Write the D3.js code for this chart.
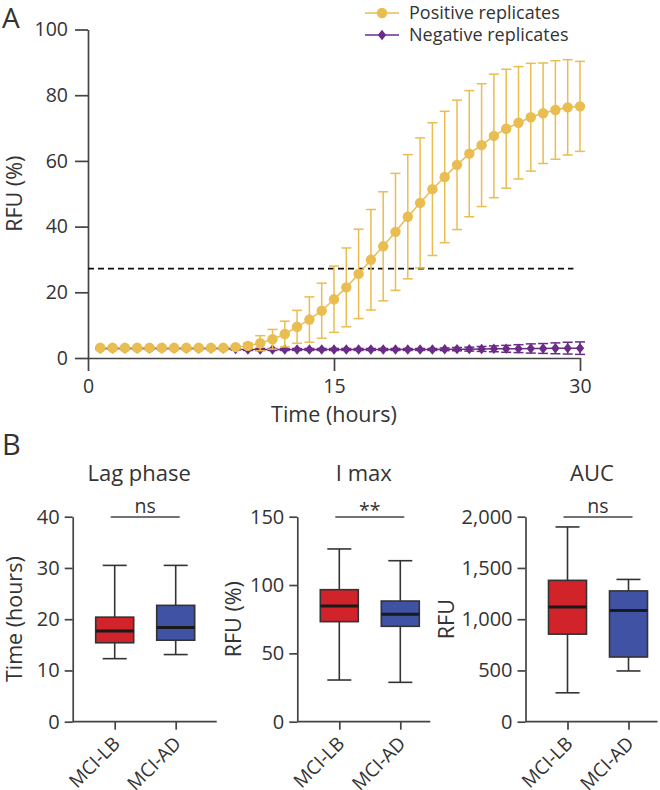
<!DOCTYPE html>
<html><head><meta charset="utf-8">
<script src="https://cdn.jsdelivr.net/npm/d3@7"></script>
<style>
body{margin:0;background:#fff}
svg{display:block}
text{font-family:"Open Sans",sans-serif;fill:#333}
</style>
</head><body>
<svg id="c" width="660" height="790"></svg>
<script>
// ---------- Panel A data ----------
const times = [0.75,1.5,2.25,3,3.75,4.5,5.25,6,6.75,7.5,8.25,9,9.75,10.5,11.25,12,12.75,13.5,14.25,15,
  15.75,16.5,17.25,18,18.75,19.5,20.25,21,21.75,22.5,23.25,24,24.75,25.5,26.25,27,27.75,28.5,29.25,30];
const posMean = [3.1,3.1,3.1,3.1,3.1,3.1,3.1,3.1,3.1,3.1,3.1,3.3,3.7,4.5,5.7,7.3,9.5,11.7,14.4,17.9,
  21.5,25.6,29.9,34.0,38.4,43.0,47.2,51.4,55.1,58.8,62.2,64.8,67.6,69.8,71.6,73.3,74.5,75.5,76.3,76.6];
const posSD = [0.3,0.3,0.3,0.3,0.3,0.3,0.3,0.3,0.3,0.3,0.3,0.5,0.8,2.3,3.0,3.9,5.0,6.9,8.4,10.1,
  12.0,13.6,15.3,16.6,17.8,18.9,19.8,20.2,20.0,19.7,19.2,18.7,18.8,18.1,17.1,16.4,15.3,15.0,14.5,13.7];
const negMean = [2.9,2.9,2.9,2.9,2.9,2.9,2.9,2.9,2.9,2.9,2.9,2.7,2.6,2.6,2.6,2.6,2.6,2.6,2.6,2.6,
  2.6,2.6,2.6,2.6,2.6,2.6,2.6,2.6,2.65,2.7,2.7,2.75,2.8,2.8,2.85,2.9,2.9,2.95,3.0,3.0];
const negSD = [0.3,0.3,0.3,0.3,0.3,0.3,0.3,0.3,0.3,0.3,0.3,0.3,0.3,0.3,0.3,0.3,0.3,0.3,0.3,0.3,
  0.3,0.3,0.3,0.3,0.3,0.3,0.3,0.3,0.4,0.5,0.6,0.75,0.9,1.05,1.2,1.4,1.5,1.65,1.8,1.9];
const threshold = 27.2;
const thresholdSpan = [0, 29.6];
const xTicksA = [0,15,30];
const yTicksA = [0,20,40,60,80,100];
const seriesNames = ["Positive replicates","Negative replicates"];

// ---------- Panel B data ----------
const groups = ["MCI-LB","MCI-AD"];
// [whisker low, Q1, median, Q3, whisker high]
const lagStats  = [[12.3,15.4,17.7,20.4,30.5],[13.1,15.9,18.4,22.7,30.5]];
const imaxStats = [[30.5,73.2,84.7,96.6,126.4],[28.8,69.8,78.6,88.3,117.8]];
const aucStats  = [[282,854,1120,1379,1900],[495,631,1084,1276,1388]];
const lagTicks  = [0,10,20,30,40];
const imaxTicks = [0,50,100,150];
const aucTicks  = [0,500,1000,1500,2000];
const titlesB = ["Lag phase","I max","AUC"];
const yLabelsB = ["Time (hours)","RFU (%)","RFU"];
const sigB = ["ns","**","ns"];

// ---------- styles ----------
const YELLOW = "#E9BD50", PURPLE = "#6B2C88", AXIS = "#444";
const RED = "#D0232A", BLUE = "#3F52A3";

const svg = d3.select("#c");

function styleAxis(g, fs){
  g.selectAll(".domain").attr("stroke", AXIS).attr("stroke-width", 1.7);
  g.selectAll(".tick line").attr("stroke", AXIS).attr("stroke-width", 1.7);
  g.selectAll(".tick text").attr("fill", "#333").style("font-family", '"Open Sans",sans-serif').style("font-size", fs + "px");
}

// ================= Panel A =================
const xA = d3.scaleLinear().domain([0,30]).range([88,580]);
const yA = d3.scaleLinear().domain([0,100]).range([358,29.5]);

svg.append("text").text("A").attr("x", 2).attr("y", 28).style("font-size","28px");

svg.append("g").attr("transform","translate(0,358)")
  .call(d3.axisBottom(xA).tickValues(xTicksA).tickSize(13).tickSizeOuter(0).tickPadding(8))
  .call(g => styleAxis(g, 19.5));
svg.append("g").attr("transform","translate(88,0)")
  .call(d3.axisLeft(yA).tickValues(yTicksA).tickSize(13).tickSizeOuter(0).tickPadding(7))
  .call(g => styleAxis(g, 19.5));

svg.append("text").text("Time (hours)").attr("x", 334).attr("y", 422)
  .attr("text-anchor","middle").style("font-size","21.5px");
svg.append("text").text("RFU (%)")
  .attr("transform", `translate(22,${(yA(0)+yA(100))/2}) rotate(-90)`)
  .attr("text-anchor","middle").style("font-size","21.5px");

// threshold
svg.append("line")
  .attr("x1", xA(thresholdSpan[0])).attr("x2", xA(thresholdSpan[1]))
  .attr("y1", yA(threshold)).attr("y2", yA(threshold))
  .attr("stroke","#111").attr("stroke-width",1.6).attr("stroke-dasharray","6,4");

const posData = times.map((t,i)=>({t, m:posMean[i], s:posSD[i]}));
const negData = times.map((t,i)=>({t, m:negMean[i], s:negSD[i]}));

function errorBars(data, color, capW){
  const g = svg.append("g").attr("stroke", color).attr("stroke-width", 1.5).attr("fill","none");
  data.forEach(d=>{
    const x = xA(d.t), y1 = yA(d.m + d.s), y2 = yA(d.m - d.s);
    g.append("line").attr("x1",x).attr("x2",x).attr("y1",y1).attr("y2",y2);
    g.append("line").attr("x1",x-capW/2).attr("x2",x+capW/2).attr("y1",y1).attr("y2",y1);
    g.append("line").attr("x1",x-capW/2).attr("x2",x+capW/2).attr("y1",y2).attr("y2",y2);
  });
}
const lineGen = d3.line().x(d=>xA(d.t)).y(d=>yA(d.m));
function diamond(cx, cy, hw, hh){ return `M${cx},${cy-hh}L${cx+hw},${cy}L${cx},${cy+hh}L${cx-hw},${cy}Z`; }

// negative
errorBars(negData, PURPLE, 10);
svg.append("path").datum(negData).attr("d", lineGen).attr("fill","none").attr("stroke",PURPLE).attr("stroke-width",1.5);
svg.append("g").selectAll("path").data(negData).join("path")
  .attr("d", d=>diamond(xA(d.t), yA(d.m), 4.2, 5.2)).attr("fill", PURPLE);

// positive
errorBars(posData, YELLOW, 10);
svg.append("path").datum(posData).attr("d", lineGen).attr("fill","none").attr("stroke",YELLOW).attr("stroke-width",1.5);
svg.append("g").selectAll("circle").data(posData).join("circle")
  .attr("cx", d=>xA(d.t)).attr("cy", d=>yA(d.m)).attr("r", 5.2).attr("fill", YELLOW);

// legend
const leg = svg.append("g");
[[YELLOW,13,18.5],[PURPLE,35,40.5]].forEach(([c,ly,tb],i)=>{
  leg.append("line").attr("x1",365).attr("x2",399).attr("y1",ly).attr("y2",ly).attr("stroke",c).attr("stroke-width",1.5);
  if(i===0) leg.append("circle").attr("cx",382).attr("cy",ly).attr("r",5.2).attr("fill",c);
  else leg.append("path").attr("d", diamond(382, ly, 4.2, 5.2)).attr("fill", c);
  leg.append("text").text(seriesNames[i]).attr("x",409).attr("y",tb).style("font-size","18px");
});

// ================= Panel B =================
svg.append("text").text("B").attr("x", 2).attr("y", 455).style("font-size","29px");

const panels = [
  {stats: lagStats,  domain:[0,40],   ticks: lagTicks,  x0: 72.7,  w: 144, lx: 15,    fmt: d3.format("d")},
  {stats: imaxStats, domain:[0,150],  ticks: imaxTicks, x0: 297.3, w: 133, lx: 233.5, fmt: d3.format("d")},
  {stats: aucStats,  domain:[0,2000], ticks: aucTicks,  x0: 525.5, w: 132, lx: 446.5, fmt: d3.format(",")}
];
const yTopB = 516.7, yBotB = 721.7;

panels.forEach((p, pi)=>{
  const y = d3.scaleLinear().domain(p.domain).range([yBotB, yTopB]);
  const x = d3.scalePoint().domain(groups).range([p.x0 + 42, p.x0 + 103]);

  // axes
  svg.append("g").attr("transform",`translate(${p.x0},0)`)
    .call(d3.axisLeft(y).tickValues(p.ticks).tickFormat(p.fmt).tickSize(8).tickSizeOuter(0).tickPadding(5))
    .call(g => styleAxis(g, 20));
  const gx = svg.append("g").attr("transform",`translate(0,${yBotB})`)
    .call(d3.axisBottom(x).tickSize(8).tickSizeOuter(0))
    .call(g => styleAxis(g, 19));
  gx.select(".domain").attr("d", `M${p.x0},0H${p.x0 + p.w}`);
  gx.selectAll(".tick text")
    .attr("x", 0).attr("y", 0).attr("dy", null)
    .attr("text-anchor","end")
    .attr("transform","translate(6,23) rotate(-45)");

  // title / label
  svg.append("text").text(titlesB[pi]).attr("x", p.x0 + 66.5).attr("y", 481)
    .attr("text-anchor","middle").style("font-size","22px");
  svg.append("text").text(yLabelsB[pi])
    .attr("transform",`translate(${p.lx + 7},${(yTopB+yBotB)/2}) rotate(-90)`)
    .attr("text-anchor","middle").style("font-size","21.5px");

  // significance
  const c1 = x(groups[0]), c2 = x(groups[1]);
  svg.append("line").attr("x1", c1 - 4).attr("x2", c2 + 4).attr("y1", 517).attr("y2", 517)
    .attr("stroke", AXIS).attr("stroke-width", 1.6);
  svg.append("text").text(sigB[pi]).attr("x", (c1 + c2)/2).attr("y", sigB[pi] === "**" ? 517 : 513)
    .attr("text-anchor","middle").style("font-size","19.5px");

  // boxes
  const bw = 38, capW = 24;
  p.stats.forEach((s, gi)=>{
    const cx = x(groups[gi]);
    const g = svg.append("g").attr("stroke","#333").attr("stroke-width",1.6);
    g.append("line").attr("x1",cx).attr("x2",cx).attr("y1",y(s[0])).attr("y2",y(s[4]));
    g.append("line").attr("x1",cx-capW/2).attr("x2",cx+capW/2).attr("y1",y(s[0])).attr("y2",y(s[0]));
    g.append("line").attr("x1",cx-capW/2).attr("x2",cx+capW/2).attr("y1",y(s[4])).attr("y2",y(s[4]));
    g.append("rect").attr("x",cx-bw/2).attr("width",bw).attr("y",y(s[3])).attr("height",y(s[1])-y(s[3]))
      .attr("fill", gi===0 ? RED : BLUE);
    g.append("line").attr("x1",cx-bw/2).attr("x2",cx+bw/2).attr("y1",y(s[2])).attr("y2",y(s[2]))
      .attr("stroke","#1a1a1a").attr("stroke-width",3);
  });
});
</script>
</body></html>
